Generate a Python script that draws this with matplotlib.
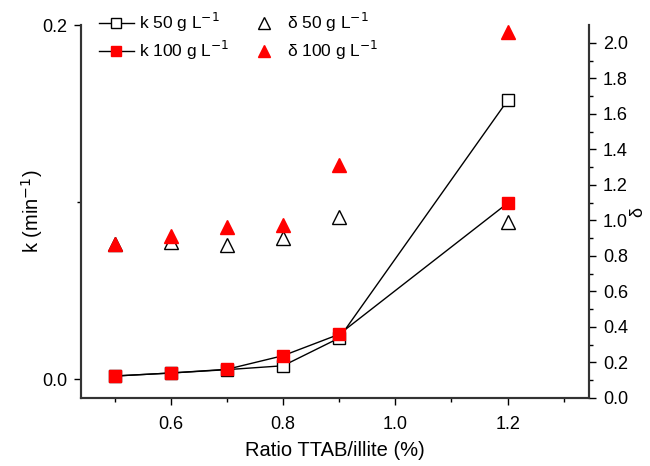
import numpy as np
import matplotlib.pyplot as plt

plt.rcParams['font.family'] = ['Liberation Sans', 'DejaVu Sans']

# data
ratio = [0.5, 0.6, 0.7, 0.8, 0.9, 1.2]
k_50 = [0.0017, 0.0034, 0.0053, 0.0075, 0.0232, 0.1575]
k_100 = [0.0017, 0.0034, 0.0055, 0.0132, 0.0253, 0.0994]
d_50 = [0.87, 0.88, 0.86, 0.90, 1.02, 0.99]
d_100 = [0.87, 0.91, 0.965, 0.975, 1.31, 2.06]

fig = plt.figure(figsize=(6.5, 4.66), dpi=100)
ax = fig.add_axes([0.1246, 0.146, 0.7816, 0.8])
ax2 = ax.twinx()

spine_col = '#333333'

l1, = ax.plot(ratio, k_50, color='black', lw=1, marker='s', ms=8,
              mfc='white', mec='black', mew=1, label='k 50 g L$^{-1}$', zorder=3)
l2, = ax.plot(ratio, k_100, color='black', lw=1, marker='s', ms=8,
              mfc='red', mec='red', label='k 100 g L$^{-1}$', zorder=4)
t1, = ax2.plot(ratio, d_50, ls='none', marker='^', ms=10,
               mfc='white', mec='black', mew=1, label='δ 50 g L$^{-1}$')
t2, = ax2.plot(ratio, d_100, ls='none', marker='^', ms=10,
               mfc='red', mec='red', label='δ 100 g L$^{-1}$')

ax.set_xlim(0.44, 1.345)
ax.set_ylim(-0.0107, 0.2)
ax2.set_ylim(0, 2.1)

ax.set_xticks([0.6, 0.8, 1.0, 1.2])
ax.set_xticks([0.5, 0.7, 0.9, 1.1, 1.3], minor=True)
ax.set_yticks([0.0, 0.2])
ax.set_yticks([0.1], minor=True)
ax2.set_yticks(np.arange(0, 2.01, 0.2))
ax2.set_yticks(np.arange(0.1, 2.1, 0.2), minor=True)
ax.xaxis.set_major_formatter(plt.FormatStrFormatter('%.1f'))
ax.yaxis.set_major_formatter(plt.FormatStrFormatter('%.1f'))
ax2.yaxis.set_major_formatter(plt.FormatStrFormatter('%.1f'))

for a in (ax, ax2):
    a.spines['top'].set_visible(False)
    for s in ('left', 'bottom', 'right'):
        a.spines[s].set_color(spine_col)
        a.spines[s].set_linewidth(1.5)
    a.tick_params(which='major', direction='out', length=5, width=1,
                  labelsize=13, colors='black', pad=5)
    a.tick_params(which='minor', direction='out', length=3, width=1)
ax.tick_params(axis='x', pad=8)

ax.set_xlabel('Ratio TTAB/illite (%)', fontsize=14.5, labelpad=6)
ax.set_ylabel('k (min$^{-1}$)', fontsize=14.5, labelpad=-2)
ax2.set_ylabel('δ', fontsize=13, labelpad=1)

fig.legend(handles=[l1, l2, t1, t2], ncol=2, frameon=False, fontsize=12.5,
           loc='upper left', bbox_to_anchor=(0.128, 1.01),
           handlelength=2.0, columnspacing=1.0, labelspacing=0.3,
           handletextpad=0.3, markerscale=0.85)

fig.savefig('out.png', dpi=100)
